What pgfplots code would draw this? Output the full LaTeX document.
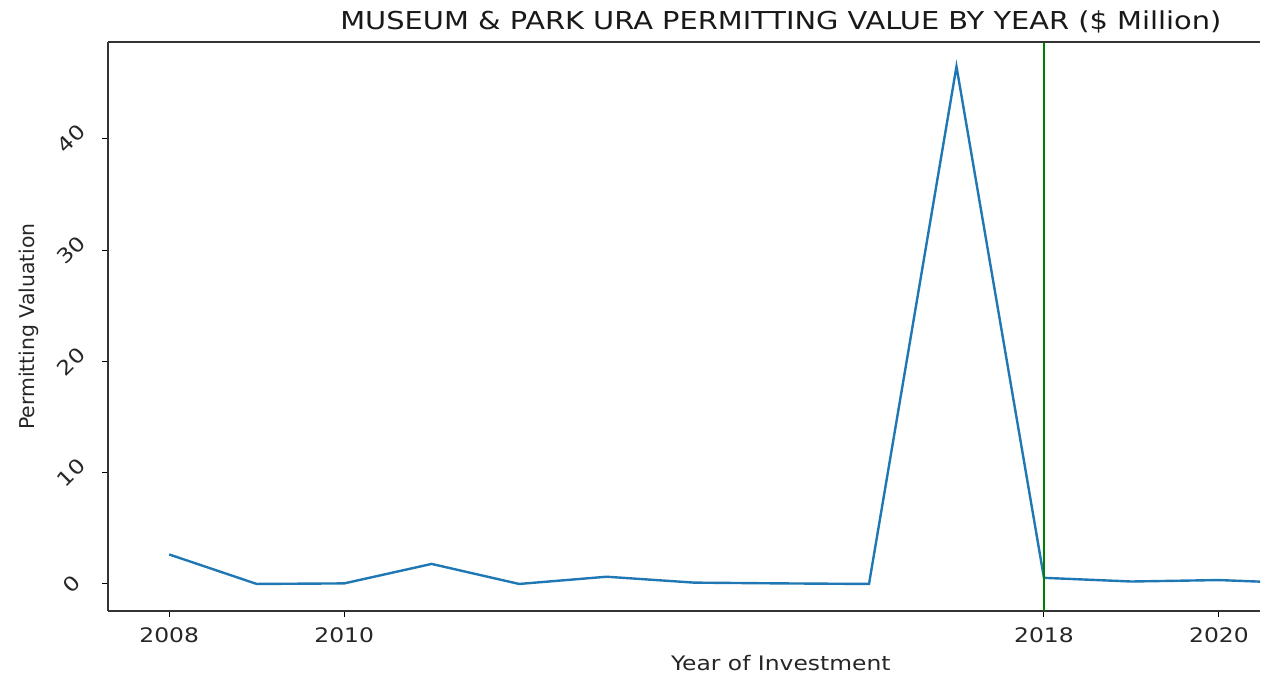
\documentclass[border=0pt]{standalone}
\usepackage{fontspec}
\setmainfont{DejaVu Sans}[FakeStretch=1.17]
\newfontfamily\plainfont{DejaVu Sans}
\usepackage{pgfplots}
\pgfplotsset{compat=1.18}
\definecolor{mplblue}{HTML}{1F77B4}
\definecolor{mplgreen}{HTML}{008000}
\begin{document}
\begin{tikzpicture}
\begin{axis}[
  name=ax,
  scale only axis,
  width=864pt, height=426.75pt,
  xmin=2007.30, xmax=2020.47,
  ymin=-2.43, ymax=48.7,
  axis lines=left,
  axis line style={-, line width=0.8pt, black!80},
  xtick={2008,2010,2018,2020},
  ytick={0,10,20,30,40},
  xticklabel style={/pgf/number format/1000 sep={}, yshift=-4.5pt},
  /pgf/number format/assume math mode=true,
  tick style={black, line width=0.8pt},
  tick align=outside,
  major tick length=4.5pt,
  ticklabel style={font=\fontsize{15}{18}\selectfont, text=black!85},
  yticklabel style={xshift=-23pt, rotate=45, anchor=center},
  xlabel={Year of Investment},
  ylabel={Permitting Valuation},
  xlabel style={at={(rel axis cs:0.584,0)}, anchor=north, yshift=-30pt, font=\fontsize{15}{18}\selectfont, text=black!85},
  ylabel style={at={(rel axis cs:0,0.5)}, anchor=center, yshift=59pt, font=\plainfont\fontsize{15.3}{18}\selectfont, text=black!85},
  title={MUSEUM \& PARK URA PERMITTING VALUE BY YEAR (\$ Million)},
  title style={at={(rel axis cs:0.584,1)}, anchor=south, yshift=-3pt, font=\fontsize{18.5}{22}\selectfont, text=black!90},
  clip=true,
]
\addplot[mplblue, line width=1.8pt] coordinates {
(2008,2.65) (2009,0.0) (2010,0.05) (2011,1.8) (2012,0.0) (2013,0.65)
(2014,0.12) (2015,0.05) (2016,0.0) (2017,46.5) (2018,0.55) (2019,0.22)
(2020,0.35) (2021,0.05)
};
\addplot[mplgreen, line width=1.8pt] coordinates {(2018,-2.43) (2018,48.7)};
\draw[line width=0.8pt, black!80] (rel axis cs:0,1) -- (rel axis cs:1,1);
\end{axis}
\pgfresetboundingbox
\path[use as bounding box] ([xshift=-81pt,yshift=-48pt]ax.south west) rectangle ([xshift=15.75pt,yshift=31.5pt]ax.north east);
\end{tikzpicture}
\end{document}
